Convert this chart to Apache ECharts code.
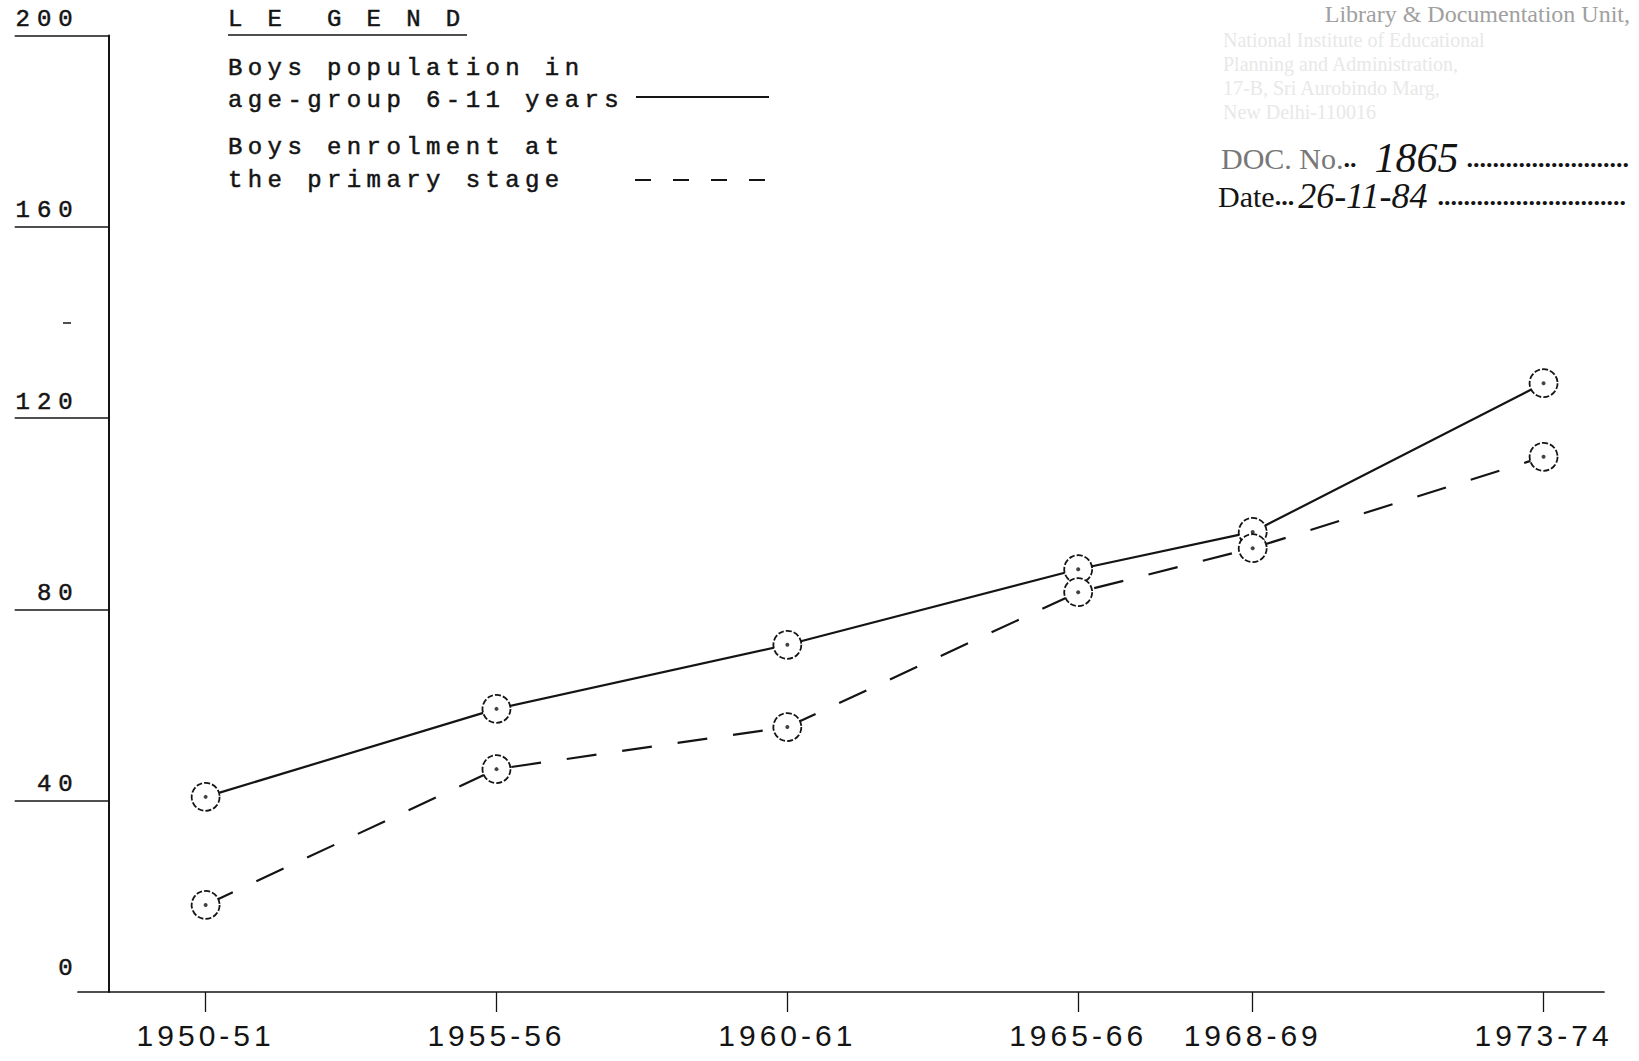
<!DOCTYPE html>
<html><head><meta charset="utf-8">
<script src="https://cdn.jsdelivr.net/npm/echarts@6/dist/echarts.min.js"></script>
<style>
html,body{margin:0;padding:0;background:#fff;}
#chart{width:1639px;height:1061px;}
#chart text{white-space:pre;}
</style></head><body><div id="chart"></div>
<script>
// ---- data ----
const years = [1950, 1955, 1960, 1965, 1968, 1973];
const yearLabels = ['1950-51', '1955-56', '1960-61', '1965-66', '1968-69', '1973-74'];
const population = [40.8, 59.2, 72.6, 88.4, 96.2, 127.3];   // Boys population in age-group 6-11 years
const enrolment  = [18.2, 46.6, 55.4, 83.6, 92.8, 111.9];   // Boys enrolment at the primary stage
const yTickValues = [40, 80, 120, 160, 200];
const yLabelValues = [0, 40, 80, 120, 160, 200];
const yMinorTicks = [140];
const legendTitle = 'L E  G E N D';
const legendPopulation = ['Boys population in', 'age-group 6-11 years'];
const legendEnrolment = ['Boys enrolment at', 'the primary stage'];
const stampTop = 'Library & Documentation Unit,';
const stampFaint = ['National Institute of Educational', 'Planning and Administration,', '17-B, Sri Aurobindo Marg,', 'New Delhi-110016'];
const docNo = '1865';
const docDate = '26-11-84';

const INK = '#141414';
const MONO = '"Liberation Mono", "DejaVu Sans Mono", monospace';
const NARROW = '"Liberation Sans Narrow", "Liberation Sans", sans-serif';
const SERIF = '"Liberation Serif", "DejaVu Serif", serif';

const chart = echarts.init(document.getElementById('chart'), null, {renderer: 'svg'});

const popData = years.map((y, i) => [y, population[i]]);
const enrData = years.map((y, i) => [y, enrolment[i]]);

const markerStyle = {color: '#fff', borderColor: INK, borderWidth: 1.8, borderType: [6, 2]};

function legendText(x, y, text) {
  return {type: 'text', x: x, y: y, style: {text: text, fontFamily: MONO, fontSize: 24, fill: INK,
    stroke: INK, lineWidth: 0.5, verticalAlign: 'middle'}};
}

const graphics = [
  legendText(228, 19, legendTitle),
  {type: 'line', shape: {x1: 228, y1: 35, x2: 467, y2: 35}, style: {stroke: INK, lineWidth: 1.5}},
  legendText(228, 68, legendPopulation[0]),
  legendText(228, 100, legendPopulation[1]),
  {type: 'line', shape: {x1: 636, y1: 97, x2: 769, y2: 97}, style: {stroke: INK, lineWidth: 2}},
  legendText(228, 147, legendEnrolment[0]),
  legendText(228, 180, legendEnrolment[1]),
  {type: 'line', shape: {x1: 635, y1: 180, x2: 769, y2: 180}, style: {stroke: INK, lineWidth: 2, lineDash: [16, 22]}},
  // stamp
  {type: 'text', x: 1630, y: 14, style: {text: stampTop, fontFamily: SERIF, fontSize: 24, lineHeight: 24, fill: '#a0a0a0', align: 'right', verticalAlign: 'middle'}},
  {type: 'text', x: 1221, y: 158, style: {
    text: '{n|DOC. No.}{d|..}{h|' + docNo + '}{d|.........................}',
    verticalAlign: 'middle',
    rich: {
      n: {fontFamily: SERIF, fontSize: 30, lineHeight: 32, fill: '#777'},
      h: {fontFamily: SERIF, fontStyle: 'italic', fontSize: 42, lineHeight: 32, fill: INK, padding: [0, 8, 0, 18]},
      d: {fontFamily: SERIF, fontWeight: 'bold', fontSize: 26, lineHeight: 32, fill: INK}
    }}},
  {type: 'text', x: 1218, y: 196, style: {
    text: '{n|Date}{d|...}{h|' + docDate + '}{d|.............................}',
    verticalAlign: 'middle',
    rich: {
      n: {fontFamily: SERIF, fontSize: 30, lineHeight: 32, fill: INK},
      h: {fontFamily: SERIF, fontStyle: 'italic', fontSize: 36, lineHeight: 32, fill: INK, padding: [0, 10, 0, 4]},
      d: {fontFamily: SERIF, fontWeight: 'bold', fontSize: 26, lineHeight: 32, fill: INK}
    }}}
];
stampFaint.forEach((t, i) => {
  graphics.push({type: 'text', x: 1223, y: 40 + i * 24, style: {text: t, fontFamily: SERIF, fontSize: 20, lineHeight: 20, fill: '#e8e8e8', verticalAlign: 'middle'}});
});

const option = {
  animation: false,
  backgroundColor: '#fff',
  grid: {left: 78, right: 35, top: 35.5, bottom: 69, containLabel: false},
  xAxis: {
    type: 'value', min: 1947.806, max: 1974.039,
    axisLine: {show: true, onZero: false, lineStyle: {color: INK, width: 1.7}},
    axisTick: {show: true, customValues: years, length: 20, lineStyle: {color: INK, width: 1.3}},
    axisLabel: {show: true, customValues: years, margin: 28, fontFamily: NARROW, fontSize: 30, color: INK,
      formatter: v => yearLabels[years.indexOf(v)]},
    splitLine: {show: false}
  },
  yAxis: [{
    type: 'value', min: 0, max: 200, interval: 40, offset: -30.7,
    axisLine: {show: true, onZero: false, lineStyle: {color: INK, width: 2}},
    axisTick: {show: true, customValues: yTickValues, length: 94, lineStyle: {color: INK, width: 1.5}},
    axisLabel: {show: true, customValues: yLabelValues, margin: 29, fontFamily: MONO, fontSize: 24, color: INK,
      verticalAlign: 'bottom',
      formatter: v => v === 0 ? '{z|0}' : '{n|' + v + '}',
      rich: {n: {fontFamily: MONO, fontSize: 24, color: INK, padding: [0, 0, 4, 0], textBorderColor: INK, textBorderWidth: 0.5},
             z: {fontFamily: MONO, fontSize: 24, color: INK, padding: [0, 0, 12, 0], textBorderColor: INK, textBorderWidth: 0.5}}},
    splitLine: {show: false}
  }, {
    type: 'value', min: 0, max: 200, position: 'left', offset: 7,
    axisLine: {show: false},
    axisTick: {show: true, customValues: yMinorTicks, length: 8, lineStyle: {color: INK, width: 1.5}},
    axisLabel: {show: false},
    splitLine: {show: false}
  }],
  graphic: graphics,
  series: [
    {type: 'line', name: 'Boys population in age-group 6-11 years', data: popData,
      symbol: 'circle', symbolSize: 28, lineStyle: {color: INK, width: 2.2}, itemStyle: markerStyle, z: 3},
    {type: 'line', name: 'Boys enrolment at the primary stage', data: enrData,
      symbol: 'circle', symbolSize: 28, lineStyle: {color: INK, width: 2.2, type: [30, 26]}, itemStyle: markerStyle, z: 3},
    {type: 'scatter', data: popData, symbolSize: 4, itemStyle: {color: INK}, z: 5, silent: true},
    {type: 'scatter', data: enrData, symbolSize: 4, itemStyle: {color: INK}, z: 5, silent: true}
  ]
};
chart.setOption(option);

function applySpacing() {
  const texts = document.querySelectorAll('#chart svg text');
  texts.forEach(t => {
    const s = t.textContent;
    let sp = 0;
    if (/^\d{4}-\d{2}$/.test(s) && s !== docDate) sp = 4;
    else if (/^\d{1,3}$/.test(s)) sp = 7;
    else if (s === legendTitle || legendPopulation.includes(s) || legendEnrolment.includes(s)) sp = 5.4;
    if (sp) t.style.letterSpacing = sp + 'px';
  });
}
chart.on('finished', applySpacing);
setTimeout(applySpacing, 50);
setTimeout(applySpacing, 300);
</script></body></html>
